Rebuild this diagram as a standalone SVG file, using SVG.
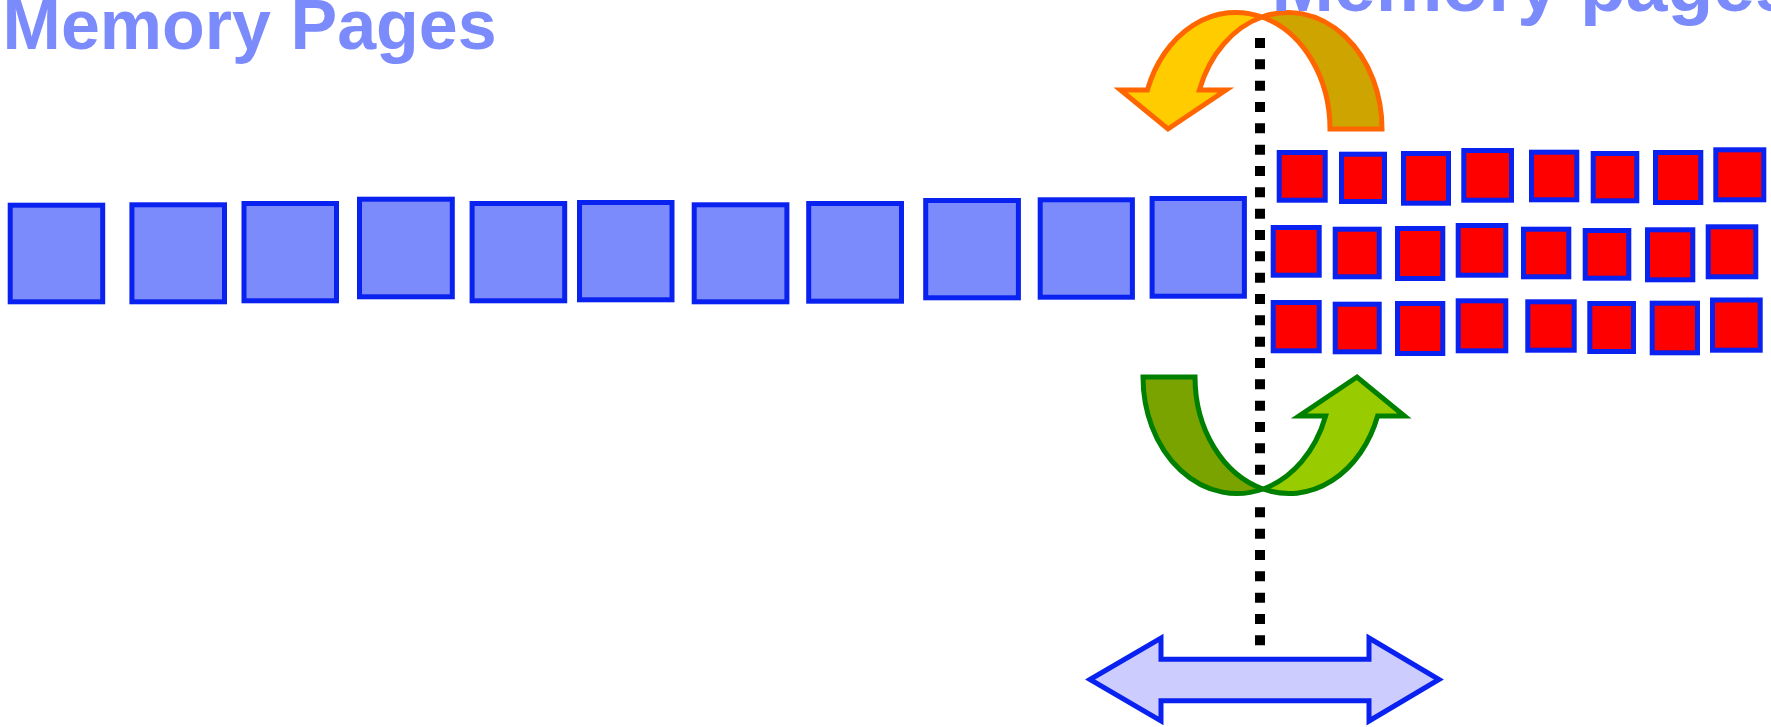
<svg xmlns="http://www.w3.org/2000/svg" xmlns:xlink="http://www.w3.org/1999/xlink" width="1771" height="727" viewBox="0 0 1771 727">
  <style>
    .title { font-family: "Liberation Sans", Arial, sans-serif; font-weight: bold; font-size: 70px; fill: #7B8BFB; }
    .page rect { fill: #7B8BFB; stroke: #0A22F0; stroke-width: 5; }
    .frame rect { fill: #FF0000; stroke: #0A22F0; stroke-width: 5; }
    .swap-back { fill: #CDA400; stroke: #FF6600; stroke-width: 5; }
    .swap-front { fill: #FFCC00; stroke: #FF6600; stroke-width: 5; }
    .load-back { fill: #7AA300; stroke: #008000; stroke-width: 5; }
    .load-front { fill: #99CC00; stroke: #008000; stroke-width: 5; }
    .span { fill: #CCCCFF; stroke: #0A22F0; stroke-width: 5; }
    .divider { fill: none; stroke: #000000; stroke-width: 10; stroke-dasharray: 10 11.333; }
  </style>
  <defs>
    <!-- U-turn ribbon arrow, local origin at the cusp column on the tail line -->
    <path id="uBack" d="M68,0 A94,116.5 0 0 0 0,-112 A94,116.5 0 0 1 120,0 Z"/>
    <path id="uFront" d="M-114.6,-39 A94,116.5 0 0 1 0,-112 A94,116.5 0 0 0 -62.6,-39 L-36,-39 L-94,0 L-141.5,-39 Z"/>
  </defs>

  <!-- headings -->
  <text id="title-left" class="title" x="2.6" y="49">Memory Pages</text>

  <!-- dotted divider -->
  <g id="connectors">
    <path class="divider" d="M1260,38 V475"/>
    <path class="divider" d="M1260,507.3 V646"/>
  </g>

  <!-- virtual memory pages -->
  <g id="page-1" class="page"><rect x="10.2" y="205.2" width="92.5" height="96.6"/></g>
  <g id="page-2" class="page"><rect x="131.9" y="204.8" width="92.6" height="97"/></g>
  <g id="page-3" class="page"><rect x="244" y="203.5" width="92.5" height="97.3"/></g>
  <g id="page-4" class="page"><rect x="359.5" y="199.2" width="92.8" height="97.6"/></g>
  <g id="page-5" class="page"><rect x="472.1" y="203.5" width="92.6" height="97.3"/></g>
  <g id="page-6" class="page"><rect x="579.5" y="202.5" width="92.5" height="97.3"/></g>
  <g id="page-7" class="page"><rect x="694.2" y="204.8" width="92.7" height="97"/></g>
  <g id="page-8" class="page"><rect x="808.7" y="203.5" width="92.8" height="97.7"/></g>
  <g id="page-9" class="page"><rect x="925.7" y="200.5" width="92.7" height="97.3"/></g>
  <g id="page-10" class="page"><rect x="1040.2" y="199.8" width="92.2" height="97.4"/></g>
  <g id="page-11" class="page"><rect x="1152.1" y="198.5" width="92.3" height="97.7"/></g>

  <!-- physical frames, row 1 -->
  <g id="frame-1-1" class="frame"><rect x="1279.2" y="152.5" width="46" height="47.7"/></g>
  <g id="frame-1-2" class="frame"><rect x="1341.5" y="154.2" width="43" height="47.3"/></g>
  <g id="frame-1-3" class="frame"><rect x="1403.5" y="153.5" width="45" height="49.7"/></g>
  <g id="frame-1-4" class="frame"><rect x="1463.8" y="150.5" width="47.7" height="49.7"/></g>
  <g id="frame-1-5" class="frame"><rect x="1531.5" y="152.2" width="45.3" height="47.6"/></g>
  <g id="frame-1-6" class="frame"><rect x="1593.2" y="153.5" width="43.6" height="47.3"/></g>
  <g id="frame-1-7" class="frame"><rect x="1655.5" y="152.5" width="45.3" height="50"/></g>
  <g id="frame-1-8" class="frame"><rect x="1715.8" y="149.8" width="48" height="50"/></g>
  <!-- row 2 -->
  <g id="frame-2-1" class="frame"><rect x="1273.2" y="227.5" width="46" height="47.7"/></g>
  <g id="frame-2-2" class="frame"><rect x="1335.2" y="229.2" width="44" height="47.6"/></g>
  <g id="frame-2-3" class="frame"><rect x="1397.5" y="228.5" width="45.3" height="50"/></g>
  <g id="frame-2-4" class="frame"><rect x="1458.2" y="225.5" width="47.6" height="49.7"/></g>
  <g id="frame-2-5" class="frame"><rect x="1523.5" y="229.2" width="45.3" height="47.6"/></g>
  <g id="frame-2-6" class="frame"><rect x="1585.2" y="230.5" width="43.6" height="47.7"/></g>
  <g id="frame-2-7" class="frame"><rect x="1647.5" y="229.8" width="45.3" height="50"/></g>
  <g id="frame-2-8" class="frame"><rect x="1708.2" y="226.8" width="47.6" height="50"/></g>
  <!-- row 3 -->
  <g id="frame-3-1" class="frame"><rect x="1273.2" y="302.5" width="46" height="48.3"/></g>
  <g id="frame-3-2" class="frame"><rect x="1335.2" y="304.2" width="44" height="47.6"/></g>
  <g id="frame-3-3" class="frame"><rect x="1397.5" y="303.5" width="45.3" height="50"/></g>
  <g id="frame-3-4" class="frame"><rect x="1458.2" y="300.8" width="47.6" height="50"/></g>
  <g id="frame-3-5" class="frame"><rect x="1527.8" y="301.8" width="46.4" height="48.4"/></g>
  <g id="frame-3-6" class="frame"><rect x="1589.8" y="303.5" width="43.7" height="48"/></g>
  <g id="frame-3-7" class="frame"><rect x="1652.2" y="303.2" width="45.3" height="49.6"/></g>
  <g id="frame-3-8" class="frame"><rect x="1712.5" y="300" width="47.7" height="50.2"/></g>

  <!-- page-out U-turn arrow -->
  <g id="swap-out" transform="translate(1262,129)">
    <use xlink:href="#uBack" class="swap-back"/>
    <use xlink:href="#uFront" class="swap-front"/>
  </g>

  <!-- page-in U-turn arrow -->
  <g id="swap-in" transform="translate(1263,377) rotate(180)">
    <use xlink:href="#uBack" class="load-back"/>
    <use xlink:href="#uFront" class="load-front"/>
  </g>

  <!-- two-way arrow -->
  <g id="two-way">
    <path class="span" d="M1090,679.5 L1161,638 V659.2 H1369 V638 L1439,679.5 L1369,721 V700.8 H1161 V721 Z"/>
  </g>

  <text id="title-right" class="title" x="1271.5" y="11" style="font-size:75px">Memory pages</text>
</svg>
